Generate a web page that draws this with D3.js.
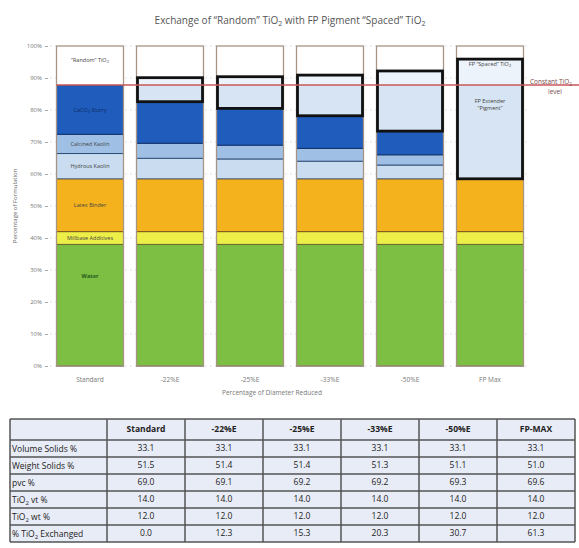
<!DOCTYPE html>
<html>
<head>
<meta charset="utf-8">
<script src="https://cdn.jsdelivr.net/npm/d3@7/dist/d3.min.js"></script>
<style>
body { margin: 0; background: #fff; }
text { font-family: "Open Sans", "DejaVu Sans", sans-serif; }
</style>
</head>
<body>
<script>
// categories (bars)
var categories = ["Standard", "-22%E", "-25%E", "-33%E", "-50%E", "FP Max"];

// segment thickness in % of formulation, bottom to top
var water     = [38, 38, 38, 38, 38, 38];
var millbase  = [4, 4, 4, 4, 4, 4];
var latex     = [16.5, 16.5, 16.5, 16.5, 16.5, 16.5];
var hydrous   = [7.9, 6.4, 6.2, 5.5, 4.3, 0];
var calcined  = [6.0, 4.7, 4.3, 4.0, 3.2, 0];
var caco3     = [15.4, 13.0, 11.5, 10.2, 7.4, 0];
var fpPigment = [0, 5.2, 7.3, 9.6, 14.4, 29.3];
var fpSpaced  = [0, 2.3, 2.6, 3.1, 4.4, 8.1];
var randomTi  = [12.2, 9.9, 9.6, 9.1, 7.8, 4.1];

var constantTiO2 = 87.8;
var yTicks = [0, 10, 20, 30, 40, 50, 60, 70, 80, 90, 100];

// table
var tableHeader = ["Standard", "-22%E", "-25%E", "-33%E", "-50%E", "FP-MAX"];
var rowLabels = ["Volume Solids %", "Weight Solids %", "pvc %", "TiO\u2082 vt %", "TiO\u2082 wt %", "% TiO\u2082 Exchanged"];
var volumeSolids = ["33.1", "33.1", "33.1", "33.1", "33.1", "33.1"];
var weightSolids = ["51.5", "51.4", "51.4", "51.3", "51.1", "51.0"];
var pvc          = ["69.0", "69.1", "69.2", "69.2", "69.3", "69.6"];
var tio2Vol      = ["14.0", "14.0", "14.0", "14.0", "14.0", "14.0"];
var tio2Wt       = ["12.0", "12.0", "12.0", "12.0", "12.0", "12.0"];
var exchanged    = ["0.0", "12.3", "15.3", "20.3", "30.7", "61.3"];

var layerKeys = ["water", "millbase", "latex", "hydrous", "calcined", "caco3", "fpPigment", "fpSpaced", "random"];
var layerValues = {
	water: water, millbase: millbase, latex: latex, hydrous: hydrous, calcined: calcined,
	caco3: caco3, fpPigment: fpPigment, fpSpaced: fpSpaced, random: randomTi
};
var fills = {
	water: "#7dbf43", millbase: "#eeee48", latex: "#f4b31c", hydrous: "#c9dcf0",
	calcined: "#9fc0e4", caco3: "#1f5cbc", fpPigment: "#d6e4f3", fpSpaced: "#edf3fa", random: "#ffffff"
};
var strokes = {
	water: "#3e5a25", millbase: "#6a6a30", latex: "#7a5a20", hydrous: "#50607a",
	calcined: "#2f4f7a", caco3: "#12306a", fpPigment: "none", fpSpaced: "none", random: "none"
};
var standardLabels = {
	water: "Water", millbase: "Millbase Additives", latex: "Latex Binder", hydrous: "Hydrous Kaolin",
	calcined: "Calcined Kaolin", caco3: "CaCO\u2083 Slurry", random: "\u201CRandom\u201D TiO\u2082"
};

var width = 579, height = 548;

function translate(x, y) {
	return "translate(" + x + "," + y + ")";
}

// write "TiO2" with a real subscript, keep the rest of the text on the baseline
function subText(sel, str, subSize, shift) {
	var parts = str.split(/([\u2082\u2083])/);
	var back = 0;
	parts.forEach(function (p) {
		if (!p.length) return;
		if (p === "\u2082" || p === "\u2083") {
			sel.append("tspan").attr("font-size", subSize).attr("dy", shift).text(p === "\u2082" ? "2" : "3");
			back = -shift;
		} else {
			var t = sel.append("tspan").text(p);
			if (back) { t.attr("dy", back); back = 0; }
		}
	});
}

var rows = categories.map(function (c, i) {
	var r = { cat: c };
	layerKeys.forEach(function (k) { r[k] = layerValues[k][i]; });
	return r;
});
var series = d3.stack().keys(layerKeys)(rows);

var svg = d3.select("body").append("svg")
	.attr("width", width)
	.attr("height", height);

var x = d3.scaleBand()
	.domain(categories)
	.range([50, 530])
	.paddingInner(0.1625)
	.paddingOuter(0.08125);

var y = d3.scaleLinear()
	.domain([0, 100])
	.range([366, 46]);

// title
subText(svg.append("text")
	.attr("x", 290)
	.attr("y", 24)
	.attr("text-anchor", "middle")
	.attr("font-size", "10px")
	.attr("fill", "#555"),
	"Exchange of \u201CRandom\u201D TiO\u2082 with FP Pigment \u201CSpaced\u201D TiO\u2082", "7px", 2);

// grid
svg.append("g")
	.selectAll("line")
	.data(yTicks)
	.enter()
	.append("line")
	.attr("x1", 50)
	.attr("x2", 530)
	.attr("y1", function (d) { return y(d); })
	.attr("y2", function (d) { return y(d); })
	.attr("stroke", "#d8d8d8")
	.attr("stroke-dasharray", "2,3")
	.attr("stroke-width", 0.8);

// y axis
var yAxis = svg.append("g")
	.attr("transform", translate(48, 0))
	.call(d3.axisLeft(y).tickValues(yTicks).tickSize(3).tickFormat(function (d) { return d + "%"; }));
yAxis.select(".domain").remove();
yAxis.selectAll("line").attr("stroke", "#aaa");
yAxis.selectAll("text").attr("font-size", "6px").attr("fill", "#777").attr("font-family", "'Open Sans', sans-serif");

svg.append("text")
	.attr("transform", translate(17, 206) + " rotate(-90)")
	.attr("text-anchor", "middle")
	.attr("font-size", "6px")
	.attr("fill", "#666")
	.text("Percentage of Formulation");

// bars
var layerG = svg.selectAll("g.layer")
	.data(series)
	.enter()
	.append("g")
	.attr("class", "layer");

layerG.selectAll("rect")
	.data(function (s) { return s.map(function (d) { return { key: s.key, d: d }; }); })
	.enter()
	.append("rect")
	.attr("x", function (e) { return x(e.d.data.cat); })
	.attr("width", x.bandwidth())
	.attr("y", function (e) { return y(e.d[1]); })
	.attr("height", function (e) { return Math.max(0, y(e.d[0]) - y(e.d[1])); })
	.attr("fill", function (e) { return fills[e.key]; })
	.attr("stroke", function (e) { return (e.d[1] - e.d[0]) > 0 ? strokes[e.key] : "none"; })
	.attr("stroke-width", 1);

// bar outlines
svg.append("g")
	.selectAll("rect")
	.data(categories)
	.enter()
	.append("rect")
	.attr("x", function (d) { return x(d); })
	.attr("width", x.bandwidth())
	.attr("y", y(100))
	.attr("height", y(0) - y(100))
	.attr("fill", "none")
	.attr("stroke", "#a89484")
	.attr("stroke-width", 1.3);

// FP boxes (pigment + spaced TiO2)
var fpLow = series[layerKeys.indexOf("fpPigment")];
var fpHigh = series[layerKeys.indexOf("fpSpaced")];
svg.append("g")
	.selectAll("rect")
	.data(categories.map(function (c, i) { return { cat: c, lo: fpLow[i][0], hi: fpHigh[i][1] }; })
		.filter(function (d) { return d.hi - d.lo > 0; }))
	.enter()
	.append("rect")
	.attr("x", function (d) { return x(d.cat) + 1; })
	.attr("width", x.bandwidth() - 2)
	.attr("y", function (d) { return y(d.hi); })
	.attr("height", function (d) { return y(d.lo) - y(d.hi); })
	.attr("fill", "none")
	.attr("stroke", "#111")
	.attr("stroke-width", 2.8);

// constant TiO2 line
svg.append("line")
	.attr("x1", x(categories[0]))
	.attr("x2", width)
	.attr("y1", y(constantTiO2))
	.attr("y2", y(constantTiO2))
	.attr("stroke", "#c9575a")
	.attr("stroke-width", 1.6);

subText(svg.append("text")
	.attr("x", 530)
	.attr("y", y(constantTiO2) - 1)
	.attr("font-size", "6.5px")
	.attr("fill", "#7a4a4a"),
	"Constant TiO\u2082", "4.5px", 1.5);
svg.append("text")
	.attr("x", 555)
	.attr("y", y(constantTiO2) + 9)
	.attr("text-anchor", "middle")
	.attr("font-size", "6.5px")
	.attr("fill", "#7a4a4a")
	.text("level");

// segment labels in the Standard bar
var s0 = categories[0];
series.forEach(function (s) {
	var lbl = standardLabels[s.key];
	var d = s[0];
	if (!lbl || d[1] - d[0] <= 0) return;
	var cy = s.key === "random" ? y(d[1]) + 14 : (s.key === "water" ? y(28) : y((d[0] + d[1]) / 2));
	subText(svg.append("text")
		.attr("x", x(s0) + x.bandwidth() / 2)
		.attr("y", cy + 2)
		.attr("text-anchor", "middle")
		.attr("font-size", "5.5px")
		.attr("font-weight", s.key === "water" ? "bold" : "normal")
		.attr("fill", s.key === "caco3" ? "#0f2a66" : (s.key === "water" ? "#1d5a1d" : "#444")),
		lbl, "4px", 1);
});

// labels in FP Max bar
var fpCat = categories[5];
var fpi = 5;
subText(svg.append("text")
	.attr("x", x(fpCat) + x.bandwidth() / 2)
	.attr("y", y(fpHigh[fpi][1]) + 7)
	.attr("text-anchor", "middle")
	.attr("font-size", "5.5px")
	.attr("fill", "#444"),
	"FP \u201CSpaced\u201D TiO\u2082", "4px", 1);
svg.append("text")
	.attr("x", x(fpCat) + x.bandwidth() / 2)
	.attr("y", y(fpLow[fpi][1]) + 18)
	.attr("text-anchor", "middle")
	.attr("font-size", "5.5px")
	.attr("fill", "#444")
	.text("FP Extender");
svg.append("text")
	.attr("x", x(fpCat) + x.bandwidth() / 2)
	.attr("y", y(fpLow[fpi][1]) + 25)
	.attr("text-anchor", "middle")
	.attr("font-size", "5.5px")
	.attr("fill", "#444")
	.text("\u201CPigment\u201D");

// x axis labels
svg.append("g")
	.selectAll("text")
	.data(categories)
	.enter()
	.append("text")
	.attr("x", function (d) { return x(d) + x.bandwidth() / 2; })
	.attr("y", 382)
	.attr("text-anchor", "middle")
	.attr("font-size", "6.5px")
	.attr("fill", "#777")
	.text(function (d) { return d; });

svg.append("text")
	.attr("x", 272)
	.attr("y", 395)
	.attr("text-anchor", "middle")
	.attr("font-size", "6.5px")
	.attr("fill", "#777")
	.text("Percentage of Diameter Reduced");

// table
var tableRows = [volumeSolids, weightSolids, pvc, tio2Vol, tio2Wt, exchanged];
var tableTop = 419, headerH = 21, rowH = 17, labelLeft = 10;
var col = d3.scaleBand().domain(tableHeader).range([107, 575]);
var tableBottom = tableTop + headerH + rowH * tableRows.length;

var table = svg.append("g");
table.append("rect")
	.attr("x", labelLeft)
	.attr("y", tableTop)
	.attr("width", 575 - labelLeft)
	.attr("height", tableBottom - tableTop)
	.attr("fill", "#e8ecf6");

// header
table.selectAll("text.head")
	.data(tableHeader)
	.enter()
	.append("text")
	.attr("class", "head")
	.attr("x", function (d) { return col(d) + col.bandwidth() / 2; })
	.attr("y", tableTop + headerH / 2)
	.attr("dy", "0.35em")
	.attr("text-anchor", "middle")
	.attr("font-size", "8.5px")
	.attr("font-weight", "bold")
	.attr("fill", "#222")
	.text(function (d) { return d; });

var bodyRows = table.selectAll("g.row")
	.data(tableRows)
	.enter()
	.append("g")
	.attr("class", "row")
	.attr("transform", function (d, i) { return translate(0, tableTop + headerH + i * rowH); });

bodyRows.each(function (d, i) {
	subText(d3.select(this).append("text")
		.attr("x", labelLeft + 2)
		.attr("y", rowH / 2 + 3)
		.attr("font-size", "8.5px")
		.attr("fill", "#222"),
		rowLabels[i], "6px", 2);
});

bodyRows.selectAll("text.val")
	.data(function (d) { return d; })
	.enter()
	.append("text")
	.attr("class", "val")
	.attr("x", function (d, j) { return col(tableHeader[j]) + col.bandwidth() / 2; })
	.attr("y", rowH / 2)
	.attr("dy", "0.35em")
	.attr("text-anchor", "middle")
	.attr("font-size", "8.5px")
	.attr("fill", "#222")
	.text(function (d) { return d; });

// table grid
var hLines = [tableTop, tableTop + headerH];
tableRows.forEach(function (r, i) { hLines.push(tableTop + headerH + (i + 1) * rowH); });
table.selectAll("line.h")
	.data(hLines)
	.enter()
	.append("line")
	.attr("x1", labelLeft)
	.attr("x2", 575)
	.attr("y1", function (d) { return d; })
	.attr("y2", function (d) { return d; })
	.attr("stroke", "#555")
	.attr("stroke-width", 1.5);

var vLines = [labelLeft].concat(tableHeader.map(function (d) { return col(d); })).concat([575]);
table.selectAll("line.v")
	.data(vLines)
	.enter()
	.append("line")
	.attr("x1", function (d) { return d; })
	.attr("x2", function (d) { return d; })
	.attr("y1", tableTop)
	.attr("y2", tableBottom)
	.attr("stroke", "#555")
	.attr("stroke-width", 1.5);
</script>
</body>
</html>
